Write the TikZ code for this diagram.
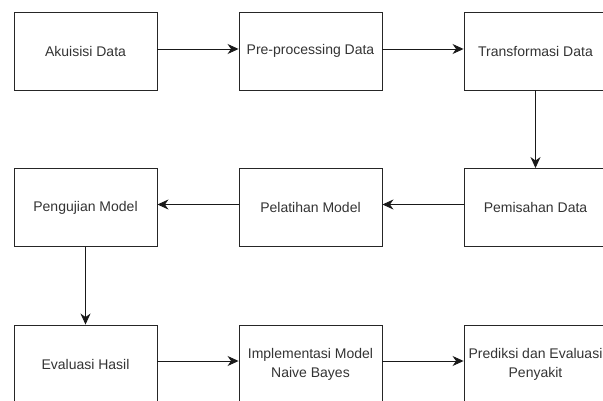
\documentclass[tikz,border=0pt]{standalone}
\usepackage{fontspec}
\setmainfont{Liberation Sans}
\usetikzlibrary{arrows.meta}
\begin{document}
\begin{tikzpicture}[x=1pt,y=-1pt,
    stage/.style={draw=black!85,line width=0.9pt,minimum width=143pt,minimum height=78pt,
        inner sep=2pt,align=center,text=black!80,font=\fontsize{14}{19}\selectfont},
    flow/.style={draw=black!90,line width=0.9pt,-{Stealth[length=11pt,width=10pt,inset=3.5pt]}}]
    \useasboundingbox (0,0) rectangle (603,401);
    
    % Row 1
    \node[stage] (akuisisi)   at (85.5,51)  {Akuisisi Data};
    \node[stage] (preproc)    at (310.5,51) {Pre-processing Data};
    \node[stage] (transform)  at (535.5,51) {Transformasi Data};
    
    % Row 2
    \node[stage] (pengujian)  at (85.5,207.5)  {Pengujian Model};
    \node[stage] (pelatihan)  at (310.5,207.5) {Pelatihan Model};
    \node[stage] (pemisahan)  at (535.5,207.5) {Pemisahan Data};
    
    % Row 3
    \node[stage] (evaluasi)   at (85.5,364)  {Evaluasi Hasil};
    \node[stage] (implement)  at (310.5,364) {Implementasi Model\\Naive Bayes};
    \node[stage] (prediksi)   at (535.5,364) {Prediksi dan Evaluasi\\Penyakit};
    
    % Arrows
    \draw[flow] ([yshift=2pt]akuisisi.east)  -- ([yshift=2pt]preproc.west);
    \draw[flow] ([yshift=2pt]preproc.east)   -- ([yshift=2pt]transform.west);
    \draw[flow] (transform.south) -- (pemisahan.north);
    \draw[flow] ([yshift=3pt]pemisahan.west) -- ([yshift=3pt]pelatihan.east);
    \draw[flow] ([yshift=3pt]pelatihan.west) -- ([yshift=3pt]pengujian.east);
    \draw[flow] (pengujian.south) -- (evaluasi.north);
    \draw[flow] ([yshift=3pt]evaluasi.east)  -- ([yshift=3pt]implement.west);
    \draw[flow] ([yshift=3pt]implement.east) -- ([yshift=3pt]prediksi.west);
\end{tikzpicture}
\end{document}
